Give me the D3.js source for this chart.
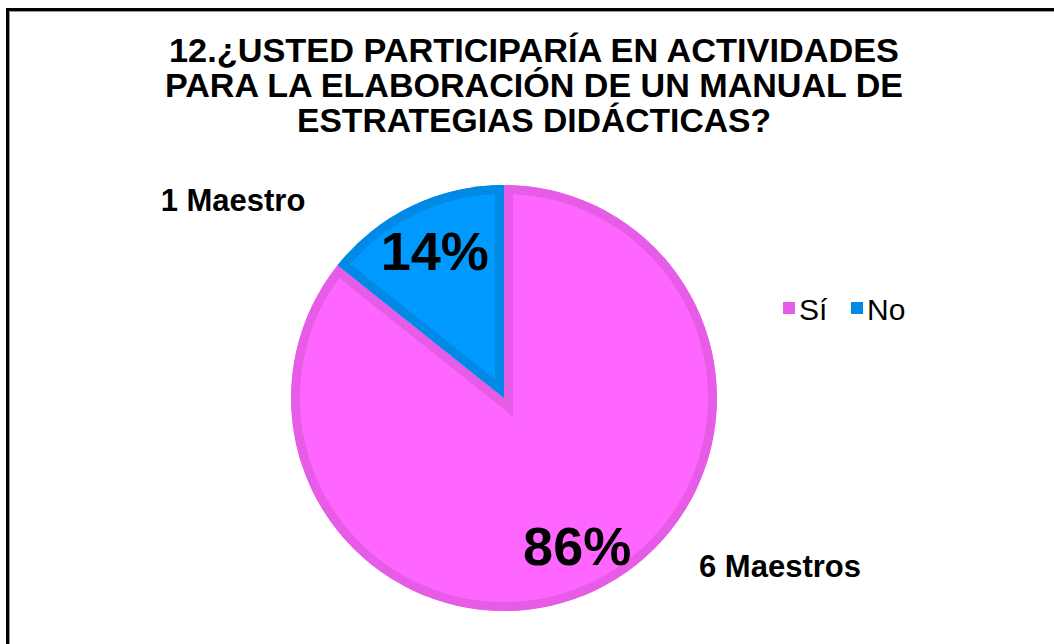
<!DOCTYPE html>
<html>
<head>
<meta charset="utf-8">
<script src="https://cdn.jsdelivr.net/npm/d3@7"></script>
<style>
  html, body { margin: 0; padding: 0; background: #fff; }
  #chart { width: 1054px; height: 644px; }
  text { font-family: "Liberation Sans", Arial, sans-serif; }
</style>
</head>
<body>
<div id="chart"></div>
<script>
const titleLines = [
  "12.¿USTED PARTICIPARÍA EN ACTIVIDADES",
  "PARA LA ELABORACIÓN DE UN MANUAL DE",
  "ESTRATEGIAS DIDÁCTICAS?"
];
const categories = ["Sí", "No"];
const counts = [6, 1];
const countLabels = ["6 Maestros", "1 Maestro"];
const fills = ["#FF66FF", "#0099FF"];
const borders = ["#E65CE6", "#008AE6"];

const width = 1054, height = 644;
const cx = 504, cy = 398, radius = 213, band = 9;

const svg = d3.select("#chart").append("svg")
  .attr("width", width)
  .attr("height", height)
  .attr("viewBox", [0, 0, width, height]);

// chart frame
svg.append("rect")
  .attr("x", 7.5).attr("y", 9.5)
  .attr("width", width + 20).attr("height", height + 20)
  .attr("fill", "#fff")
  .attr("stroke", "#000")
  .attr("stroke-width", 3);
svg.append("rect")
  .attr("x", 9.5).attr("y", 11.5)
  .attr("width", width + 20).attr("height", height + 20)
  .attr("fill", "none")
  .attr("stroke", "#999")
  .attr("stroke-width", 1);

// title (narrow bold in the original, squeezed to fit)
const titleWidths = [730, 738, 474];
svg.append("g").selectAll("text")
  .data(titleLines)
  .join("text")
  .attr("x", 534)
  .attr("y", (d, i) => 62 + i * 35)
  .attr("text-anchor", "middle")
  .attr("font-size", 34)
  .attr("font-weight", "bold")
  .attr("fill", "#000")
  .attr("textLength", (d, i) => titleWidths[i])
  .attr("lengthAdjust", "spacingAndGlyphs")
  .text(d => d);

// pie
const data = categories.map((c, i) => ({ name: c, value: counts[i], i }));
const total = d3.sum(counts);
const pie = d3.pie().sort(null).value(d => d.value);
const arcs = pie(data);
const arc = d3.arc().innerRadius(0).outerRadius(radius);

const g = svg.append("g").attr("transform", `translate(${cx},${cy})`);
const defs = svg.append("defs");

arcs.forEach((d, k) => {
  defs.append("clipPath").attr("id", "clip" + k)
    .append("path").attr("d", arc(d));
});

g.selectAll("path.slice")
  .data(arcs)
  .join("path")
  .attr("class", "slice")
  .attr("d", arc)
  .attr("fill", d => fills[d.data.i])
  .attr("stroke", d => borders[d.data.i])
  .attr("stroke-width", band * 2)
  .attr("stroke-linejoin", "miter")
  .attr("clip-path", (d, k) => `url(#clip${k})`);

// percentage labels
const pctArc = d3.arc().innerRadius(radius * 0.77).outerRadius(radius * 0.77);
g.selectAll("text.pct")
  .data(arcs)
  .join("text")
  .attr("class", "pct")
  .attr("x", d => pctArc.centroid(d)[0] + 2)
  .attr("y", d => pctArc.centroid(d)[1])
  .attr("dy", "0.36em")
  .attr("text-anchor", "middle")
  .attr("font-size", 54)
  .attr("font-weight", "bold")
  .attr("fill", "#000")
  .text(d => Math.round(d.data.value / total * 100) + "%");

// count labels (placed by hand in the original)
const countOffsets = [[276, 168], [-271, -198]];
g.selectAll("text.count")
  .data(arcs)
  .join("text")
  .attr("class", "count")
  .attr("x", d => countOffsets[d.data.i][0])
  .attr("y", d => countOffsets[d.data.i][1])
  .attr("dy", "0.36em")
  .attr("text-anchor", "middle")
  .attr("font-size", 31)
  .attr("font-weight", "bold")
  .attr("fill", "#000")
  .text(d => countLabels[d.data.i]);

// legend
const legend = svg.append("g").attr("transform", "translate(783,308)");
const legX = [0, 68];
const item = legend.selectAll("g")
  .data(categories)
  .join("g")
  .attr("transform", (d, i) => `translate(${legX[i]},0)`);
item.append("rect")
  .attr("x", 0).attr("y", -6)
  .attr("width", 12).attr("height", 12)
  .attr("fill", (d, i) => borders[i]);
item.append("text")
  .attr("x", 16)
  .attr("y", 1)
  .attr("dy", "0.36em")
  .attr("font-size", 30)
  .attr("fill", "#000")
  .text(d => d);
</script>
</body>
</html>
